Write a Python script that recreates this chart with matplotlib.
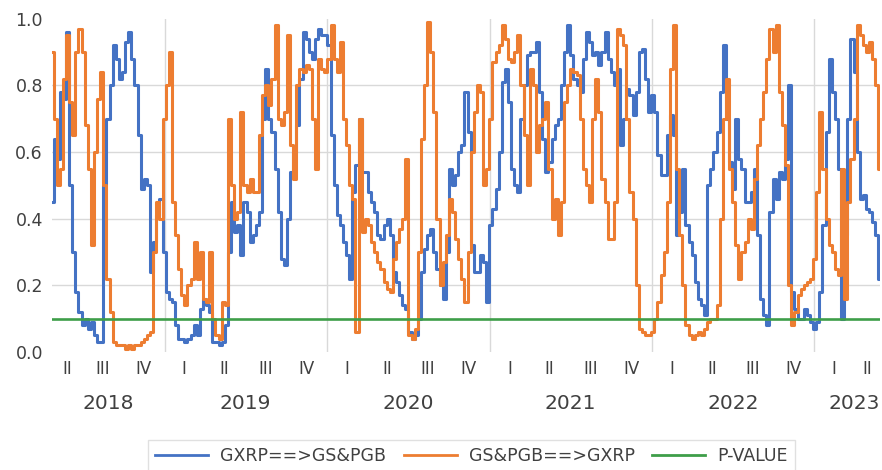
import numpy as np
import pandas as pd
import matplotlib
matplotlib.use("Agg")
import matplotlib.pyplot as plt
import matplotlib.dates as mdates
from matplotlib.lines import Line2D
import matplotlib.transforms as mtransforms

start_date = "2018-04-23"
n_obs = 267

gxrp_to_gs = [
    0.45, 0.64, 0.58, 0.78, 0.76, 0.96, 0.50, 0.30, 0.18, 0.12,
    0.08, 0.10, 0.07, 0.09, 0.05, 0.03, 0.03, 0.50, 0.70, 0.80,
    0.92, 0.88, 0.82, 0.84, 0.93, 0.96, 0.88, 0.80, 0.65, 0.49,
    0.52, 0.50, 0.24, 0.33, 0.41, 0.46, 0.30, 0.18, 0.16, 0.15,
    0.08, 0.04, 0.04, 0.03, 0.04, 0.05, 0.08, 0.05, 0.13, 0.16,
    0.14, 0.12, 0.03, 0.03, 0.02, 0.03, 0.08, 0.30, 0.45, 0.36,
    0.38, 0.29, 0.45, 0.42, 0.33, 0.35, 0.38, 0.42, 0.70, 0.85,
    0.70, 0.66, 0.55, 0.42, 0.28, 0.26, 0.40, 0.54, 0.60, 0.68,
    0.82, 0.96, 0.94, 0.90, 0.88, 0.94, 0.97, 0.95, 0.95, 0.92,
    0.65, 0.50, 0.41, 0.38, 0.33, 0.29, 0.22, 0.48, 0.56, 0.70,
    0.54, 0.54, 0.48, 0.45, 0.42, 0.35, 0.34, 0.38, 0.40, 0.35,
    0.24, 0.21, 0.17, 0.14, 0.13, 0.06, 0.04, 0.05, 0.10, 0.24,
    0.31, 0.35, 0.37, 0.30, 0.25, 0.20, 0.16, 0.30, 0.55, 0.50,
    0.53, 0.60, 0.62, 0.78, 0.66, 0.32, 0.24, 0.24, 0.29, 0.27,
    0.15, 0.38, 0.43, 0.49, 0.60, 0.81, 0.85, 0.75, 0.55, 0.50,
    0.48, 0.70, 0.80, 0.89, 0.90, 0.90, 0.93, 0.78, 0.64, 0.54,
    0.57, 0.64, 0.68, 0.70, 0.80, 0.90, 0.98, 0.89, 0.82, 0.80,
    0.78, 0.88, 0.96, 0.93, 0.89, 0.90, 0.86, 0.90, 0.96, 0.88,
    0.84, 0.80, 0.85, 0.62, 0.70, 0.79, 0.77, 0.71, 0.78, 0.90,
    0.91, 0.82, 0.72, 0.77, 0.72, 0.59, 0.53, 0.53, 0.65, 0.71,
    0.65, 0.35, 0.42, 0.55, 0.38, 0.33, 0.29, 0.21, 0.16, 0.14,
    0.11, 0.50, 0.55, 0.60, 0.66, 0.78, 0.92, 0.70, 0.57, 0.49,
    0.70, 0.58, 0.55, 0.45, 0.45, 0.48, 0.55, 0.35, 0.16, 0.11,
    0.08, 0.42, 0.52, 0.46, 0.54, 0.52, 0.58, 0.80, 0.18, 0.13,
    0.10, 0.10, 0.13, 0.11, 0.09, 0.07, 0.09, 0.18, 0.38, 0.66,
    0.88, 0.78, 0.70, 0.55, 0.10, 0.35, 0.70, 0.94, 0.84, 0.60,
    0.46, 0.47, 0.43, 0.42, 0.39, 0.35, 0.22,
]

gs_to_gxrp = [
    0.90, 0.70, 0.50, 0.55, 0.82, 0.95, 0.75, 0.65, 0.90, 0.97,
    0.90, 0.68, 0.55, 0.32, 0.60, 0.76, 0.84, 0.50, 0.22, 0.12,
    0.03, 0.02, 0.02, 0.02, 0.01, 0.02, 0.01, 0.02, 0.02, 0.03,
    0.04, 0.05, 0.06, 0.30, 0.45, 0.40, 0.70, 0.80, 0.90, 0.45,
    0.35, 0.25, 0.17, 0.14, 0.20, 0.22, 0.33, 0.22, 0.30, 0.16,
    0.15, 0.30, 0.10, 0.05, 0.04, 0.15, 0.14, 0.70, 0.50, 0.40,
    0.42, 0.72, 0.50, 0.48, 0.52, 0.48, 0.48, 0.65, 0.77, 0.80,
    0.74, 0.82, 0.98, 0.70, 0.68, 0.72, 0.95, 0.62, 0.52, 0.80,
    0.85, 0.84, 0.86, 0.85, 0.70, 0.55, 0.88, 0.85, 0.84, 0.88,
    0.98, 0.88, 0.84, 0.93, 0.70, 0.62, 0.50, 0.46, 0.06, 0.70,
    0.36, 0.40, 0.38, 0.33, 0.30, 0.27, 0.25, 0.21, 0.19, 0.18,
    0.28, 0.33, 0.37, 0.40, 0.58, 0.05, 0.04, 0.07, 0.30, 0.64,
    0.80, 0.99, 0.90, 0.72, 0.40, 0.20, 0.27, 0.35, 0.46, 0.42,
    0.34, 0.28, 0.22, 0.15, 0.30, 0.60, 0.72, 0.80, 0.78, 0.50,
    0.55, 0.70, 0.87, 0.90, 0.92, 0.98, 0.94, 0.88, 0.87, 0.90,
    0.95, 0.80, 0.65, 0.50, 0.85, 0.80, 0.60, 0.68, 0.70, 0.75,
    0.55, 0.40, 0.46, 0.35, 0.45, 0.75, 0.80, 0.85, 0.84, 0.83,
    0.70, 0.55, 0.50, 0.45, 0.70, 0.82, 0.72, 0.52, 0.45, 0.34,
    0.34, 0.45, 0.97, 0.95, 0.92, 0.70, 0.48, 0.40, 0.20, 0.07,
    0.06, 0.05, 0.05, 0.06, 0.10, 0.15, 0.23, 0.30, 0.45, 0.85,
    0.98, 0.55, 0.35, 0.20, 0.08, 0.05, 0.04, 0.05, 0.06, 0.05,
    0.07, 0.09, 0.10, 0.10, 0.14, 0.40, 0.70, 0.82, 0.55, 0.45,
    0.32, 0.22, 0.30, 0.33, 0.40, 0.37, 0.52, 0.62, 0.70, 0.78,
    0.88, 0.97, 0.90, 0.98, 0.78, 0.68, 0.56, 0.20, 0.08, 0.12,
    0.17, 0.19, 0.20, 0.21, 0.22, 0.28, 0.48, 0.72, 0.55, 0.40,
    0.32, 0.30, 0.25, 0.23, 0.55, 0.16, 0.45, 0.58, 0.70, 0.98,
    0.95, 0.92, 0.90, 0.93, 0.88, 0.80, 0.55,
]

p_value = 0.10

series_names = ["GXRP==>GS&PGB", "GS&PGB==>GXRP", "P-VALUE"]
quarter_names = ["I", "II", "III", "IV"]
y_ticks = [0.0, 0.2, 0.4, 0.6, 0.8, 1.0]

# ---------------- styling ----------------
BLUE = "#4472C4"
ORANGE = "#ED7D31"
GREEN = "#3E9E49"
GRID = "#D9D9D9"
TEXT = "#404040"

dates = pd.date_range(start_date, periods=n_obs, freq="7D")
plt.rcParams["font.family"] = ["DejaVu Sans"]

fig = plt.figure(figsize=(8.82, 4.70), dpi=100)
ax = fig.add_axes([52 / 882, 118 / 470, 828 / 882, 333.5 / 470])

ax.plot(dates, gxrp_to_gs, color=BLUE, lw=2.2, drawstyle="steps-mid", zorder=3)
ax.plot(dates, gs_to_gxrp, color=ORANGE, lw=2.2, drawstyle="steps-mid", zorder=4)
ax.plot(dates, np.full(len(dates), p_value), color=GREEN, lw=1.9, zorder=5)

ax.set_xlim(dates[0], dates[-1])
ax.set_ylim(0, 1.0)
ax.set_yticks(y_ticks)
ax.set_yticklabels([f"{v:.1f}" for v in y_ticks])
ax.tick_params(axis="y", length=0, pad=6.5, labelsize=12.5, labelcolor=TEXT)
ax.set_xticks([])
for s in ax.spines.values():
    s.set_visible(False)

# horizontal gridlines (not at 0 and 1)
for v in y_ticks[1:-1]:
    ax.axhline(v, color=GRID, lw=1.0, zorder=1)

# year separators
first_year = dates[0].year
last_year = dates[-1].year
for yr in range(first_year + 1, last_year + 1):
    ax.axvline(pd.Timestamp(f"{yr}-01-01"), color=GRID, lw=1.0, zorder=1)

# multilevel category labels
trans = mtransforms.blended_transform_factory(ax.transData, ax.transAxes)
d0, d1 = dates[0], dates[-1]
for yr in range(first_year, last_year + 1):
    for q in range(4):
        qs = pd.Timestamp(year=yr, month=3 * q + 1, day=1)
        qe = qs + pd.offsets.QuarterEnd(0)
        s, e = max(qs, d0), min(qe, d1)
        if s >= e:
            continue
        mid = s + (e - s) / 2
        ax.annotate(quarter_names[q], xy=(mdates.date2num(mid), 0), xycoords=trans,
                    xytext=(0, -12.3), textcoords="offset points",
                    ha="center", va="center", fontsize=12, color=TEXT)
    ys, ye = max(pd.Timestamp(f"{yr}-01-01"), d0), min(pd.Timestamp(f"{yr}-12-31"), d1)
    mid = ys + (ye - ys) / 2
    if yr == last_year:
        ax.annotate(str(yr), xy=(1.0, 0), xycoords="axes fraction",
                    xytext=(0, -36.8), textcoords="offset points",
                    ha="right", va="center", fontsize=14.5, color=TEXT)
    else:
        ax.annotate(str(yr), xy=(mdates.date2num(mid), 0), xycoords=trans,
                    xytext=(0, -36.8), textcoords="offset points",
                    ha="center", va="center", fontsize=14.5, color=TEXT)

handles = [Line2D([], [], color=BLUE, lw=2.0),
           Line2D([], [], color=ORANGE, lw=2.0),
           Line2D([], [], color=GREEN, lw=2.0)]
leg = fig.legend(handles, series_names, loc="upper center",
                 bbox_to_anchor=(471.5 / 882, 1 - 440 / 470), ncol=3,
                 frameon=True, fancybox=False, edgecolor=GRID, fontsize=12.5,
                 handlelength=3.05, handletextpad=0.7, columnspacing=1.0,
                 borderpad=0.42, borderaxespad=0)
leg.get_frame().set_linewidth(1.0)
for t in leg.get_texts():
    t.set_color(TEXT)

fig.savefig("out.png", dpi=100)
